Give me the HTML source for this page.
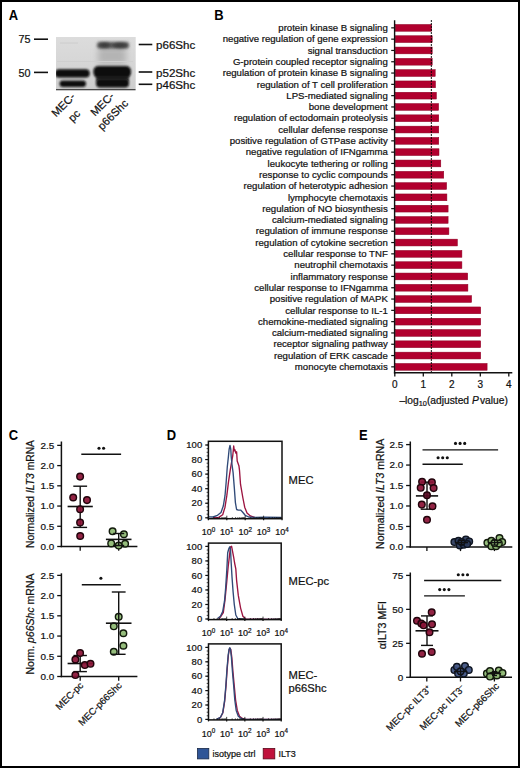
<!DOCTYPE html>
<html><head><meta charset="utf-8"><style>
html,body{margin:0;padding:0;background:#fff;}
svg{display:block;font-family:"Liberation Sans", sans-serif;}
text{stroke:#111;stroke-width:0.22px;}
</style></head><body>
<svg width="520" height="768" viewBox="0 0 520 768" font-family='"Liberation Sans", sans-serif'>
<rect width="520" height="768" fill="#fff"/>
<rect x="1" y="1" width="518" height="766" fill="none" stroke="#000" stroke-width="2"/>
<text transform="translate(8.80,20.00) scale(0.9,1)" font-size="14.4" font-weight="bold" fill="#000" style="stroke:none">A</text>
<text transform="translate(214.20,20.00) scale(0.9,1)" font-size="14.4" font-weight="bold" fill="#000" style="stroke:none">B</text>
<text transform="translate(8.80,439.70) scale(0.9,1)" font-size="14.4" font-weight="bold" fill="#000" style="stroke:none">C</text>
<text transform="translate(166.80,440.30) scale(0.9,1)" font-size="14.4" font-weight="bold" fill="#000" style="stroke:none">D</text>
<text transform="translate(359.10,439.70) scale(0.9,1)" font-size="14.4" font-weight="bold" fill="#000" style="stroke:none">E</text>
<text x="30.50" y="43.00" font-size="10.8" text-anchor="end" fill="#111" >75</text>
<text x="30.50" y="76.70" font-size="10.8" text-anchor="end" fill="#111" >50</text>
<line x1="34.00" y1="39.20" x2="48.00" y2="39.20" stroke="#111" stroke-width="1.6" />
<line x1="34.00" y1="72.40" x2="48.00" y2="72.40" stroke="#111" stroke-width="1.6" />
<defs>
<filter id="b1" x="-30%" y="-80%" width="160%" height="260%"><feGaussianBlur stdDeviation="1.2"/></filter>
<filter id="b2" x="-30%" y="-80%" width="160%" height="260%"><feGaussianBlur stdDeviation="1.6"/></filter>
<filter id="b3" x="-50%" y="-50%" width="200%" height="200%"><feGaussianBlur stdDeviation="3"/></filter>
<linearGradient id="bg" x1="0" y1="0" x2="0" y2="1">
<stop offset="0" stop-color="#dcdcdc"/><stop offset="0.5" stop-color="#d6d6d6"/><stop offset="1" stop-color="#cdcdcd"/></linearGradient>
<clipPath id="blotclip"><rect x="56" y="37" width="79.7" height="53.4"/></clipPath>
</defs>
<rect x="56" y="37" width="79.7" height="53.4" fill="url(#bg)"/>
<g clip-path="url(#blotclip)">
<rect x="98" y="48" width="28" height="16" fill="#b4b4b4" filter="url(#b3)"/>
<rect x="57" y="61" width="76" height="1" fill="#cfcfcf"/>
<rect x="60" y="42.6" width="18" height="0.9" fill="#cbcbcb"/>
<rect x="97" y="42.0" width="32" height="6.6" rx="3" fill="#555" filter="url(#b2)"/>
<ellipse cx="104.5" cy="45.2" rx="5" ry="2.4" fill="#3a3a3a" filter="url(#b2)"/>
<ellipse cx="120" cy="45.4" rx="7" ry="2.4" fill="#3a3a3a" filter="url(#b2)"/>
<rect x="96" y="74" width="33" height="7" fill="#3a3a3a" filter="url(#b1)"/>
<rect x="55" y="69.3" width="34.7" height="8.2" rx="4" fill="#080808" filter="url(#b1)"/>
<rect x="93.4" y="66.0" width="37.6" height="11.6" rx="5" fill="#080808" filter="url(#b1)"/>
<rect x="59.6" y="80.4" width="26.4" height="6.6" rx="3.2" fill="#111" filter="url(#b1)"/>
<rect x="96" y="78.8" width="33" height="8.8" rx="4" fill="#0a0a0a" filter="url(#b1)"/>
<rect x="56" y="89.1" width="79.7" height="1.3" fill="#3a3a3a"/>
</g>
<line x1="138.70" y1="44.50" x2="152.30" y2="44.50" stroke="#111" stroke-width="1.6" />
<line x1="138.70" y1="72.00" x2="152.30" y2="72.00" stroke="#111" stroke-width="1.6" />
<line x1="138.70" y1="84.30" x2="152.30" y2="84.30" stroke="#111" stroke-width="1.6" />
<text x="156.00" y="48.90" font-size="11.6" fill="#111" >p66Shc</text>
<text x="156.00" y="76.50" font-size="11.6" fill="#111" >p52Shc</text>
<text x="156.00" y="88.80" font-size="11.6" fill="#111" >p46Shc</text>
<g transform="translate(65.90,107.40) rotate(-45)">
<text x="0" y="0.00" font-size="11.1" text-anchor="middle" fill="#111">MEC-</text>
<text x="0" y="15.50" font-size="11.1" text-anchor="middle" fill="#111">pc</text>
</g>
<g transform="translate(104.90,106.80) rotate(-45)">
<text x="0" y="0.00" font-size="11.1" text-anchor="middle" fill="#111">MEC-</text>
<text x="0" y="15.00" font-size="11.1" text-anchor="middle" fill="#111">p66Shc</text>
</g>
<rect x="395.20" y="24.45" width="36.50" height="6.8" fill="#b1002e" stroke="#8c0024" stroke-width="0.5"/>
<line x1="391.20" y1="27.85" x2="394.60" y2="27.85" stroke="#111" stroke-width="1.2" />
<text x="387.80" y="31.05" font-size="9.62" text-anchor="end" fill="#111" >protein kinase B signaling</text>
<rect x="395.20" y="35.75" width="37.00" height="6.8" fill="#b1002e" stroke="#8c0024" stroke-width="0.5"/>
<line x1="391.20" y1="39.15" x2="394.60" y2="39.15" stroke="#111" stroke-width="1.2" />
<text x="387.80" y="42.35" font-size="9.62" text-anchor="end" fill="#111" >negative regulation of gene expression</text>
<rect x="395.20" y="47.05" width="37.00" height="6.8" fill="#b1002e" stroke="#8c0024" stroke-width="0.5"/>
<line x1="391.20" y1="50.45" x2="394.60" y2="50.45" stroke="#111" stroke-width="1.2" />
<text x="387.80" y="53.65" font-size="9.62" text-anchor="end" fill="#111" >signal transduction</text>
<rect x="395.20" y="58.35" width="37.00" height="6.8" fill="#b1002e" stroke="#8c0024" stroke-width="0.5"/>
<line x1="391.20" y1="61.75" x2="394.60" y2="61.75" stroke="#111" stroke-width="1.2" />
<text x="387.80" y="64.95" font-size="9.62" text-anchor="end" fill="#111" >G-protein coupled receptor signaling</text>
<rect x="395.20" y="69.65" width="40.00" height="6.8" fill="#b1002e" stroke="#8c0024" stroke-width="0.5"/>
<line x1="391.20" y1="73.05" x2="394.60" y2="73.05" stroke="#111" stroke-width="1.2" />
<text x="387.80" y="76.25" font-size="9.62" text-anchor="end" fill="#111" >regulation of protein kinase B signaling</text>
<rect x="395.20" y="80.95" width="40.30" height="6.8" fill="#b1002e" stroke="#8c0024" stroke-width="0.5"/>
<line x1="391.20" y1="84.35" x2="394.60" y2="84.35" stroke="#111" stroke-width="1.2" />
<text x="387.80" y="87.55" font-size="9.62" text-anchor="end" fill="#111" >regulation of T cell proliferation</text>
<rect x="395.20" y="92.25" width="41.20" height="6.8" fill="#b1002e" stroke="#8c0024" stroke-width="0.5"/>
<line x1="391.20" y1="95.65" x2="394.60" y2="95.65" stroke="#111" stroke-width="1.2" />
<text x="387.80" y="98.85" font-size="9.62" text-anchor="end" fill="#111" >LPS-mediated signaling</text>
<rect x="395.20" y="103.55" width="43.40" height="6.8" fill="#b1002e" stroke="#8c0024" stroke-width="0.5"/>
<line x1="391.20" y1="106.95" x2="394.60" y2="106.95" stroke="#111" stroke-width="1.2" />
<text x="387.80" y="110.15" font-size="9.62" text-anchor="end" fill="#111" >bone development</text>
<rect x="395.20" y="114.85" width="43.55" height="6.8" fill="#b1002e" stroke="#8c0024" stroke-width="0.5"/>
<line x1="391.20" y1="118.25" x2="394.60" y2="118.25" stroke="#111" stroke-width="1.2" />
<text x="387.80" y="121.45" font-size="9.62" text-anchor="end" fill="#111" >regulation of ectodomain proteolysis</text>
<rect x="395.20" y="126.15" width="43.55" height="6.8" fill="#b1002e" stroke="#8c0024" stroke-width="0.5"/>
<line x1="391.20" y1="129.55" x2="394.60" y2="129.55" stroke="#111" stroke-width="1.2" />
<text x="387.80" y="132.75" font-size="9.62" text-anchor="end" fill="#111" >cellular defense response</text>
<rect x="395.20" y="137.45" width="43.55" height="6.8" fill="#b1002e" stroke="#8c0024" stroke-width="0.5"/>
<line x1="391.20" y1="140.85" x2="394.60" y2="140.85" stroke="#111" stroke-width="1.2" />
<text x="387.80" y="144.05" font-size="9.62" text-anchor="end" fill="#111" >positive regulation of GTPase activity</text>
<rect x="395.20" y="148.75" width="43.80" height="6.8" fill="#b1002e" stroke="#8c0024" stroke-width="0.5"/>
<line x1="391.20" y1="152.15" x2="394.60" y2="152.15" stroke="#111" stroke-width="1.2" />
<text x="387.80" y="155.35" font-size="9.62" text-anchor="end" fill="#111" >negative regulation of IFNgamma</text>
<rect x="395.20" y="160.05" width="45.60" height="6.8" fill="#b1002e" stroke="#8c0024" stroke-width="0.5"/>
<line x1="391.20" y1="163.45" x2="394.60" y2="163.45" stroke="#111" stroke-width="1.2" />
<text x="387.80" y="166.65" font-size="9.62" text-anchor="end" fill="#111" >leukocyte tethering or rolling</text>
<rect x="395.20" y="171.35" width="48.55" height="6.8" fill="#b1002e" stroke="#8c0024" stroke-width="0.5"/>
<line x1="391.20" y1="174.75" x2="394.60" y2="174.75" stroke="#111" stroke-width="1.2" />
<text x="387.80" y="177.95" font-size="9.62" text-anchor="end" fill="#111" >response to cyclic compounds</text>
<rect x="395.20" y="182.65" width="51.40" height="6.8" fill="#b1002e" stroke="#8c0024" stroke-width="0.5"/>
<line x1="391.20" y1="186.05" x2="394.60" y2="186.05" stroke="#111" stroke-width="1.2" />
<text x="387.80" y="189.25" font-size="9.62" text-anchor="end" fill="#111" >regulation of heterotypic adhesion</text>
<rect x="395.20" y="193.95" width="51.70" height="6.8" fill="#b1002e" stroke="#8c0024" stroke-width="0.5"/>
<line x1="391.20" y1="197.35" x2="394.60" y2="197.35" stroke="#111" stroke-width="1.2" />
<text x="387.80" y="200.55" font-size="9.62" text-anchor="end" fill="#111" >lymphocyte chemotaxis</text>
<rect x="395.20" y="205.25" width="52.90" height="6.8" fill="#b1002e" stroke="#8c0024" stroke-width="0.5"/>
<line x1="391.20" y1="208.65" x2="394.60" y2="208.65" stroke="#111" stroke-width="1.2" />
<text x="387.80" y="211.85" font-size="9.62" text-anchor="end" fill="#111" >regulation of NO biosynthesis</text>
<rect x="395.20" y="216.55" width="52.90" height="6.8" fill="#b1002e" stroke="#8c0024" stroke-width="0.5"/>
<line x1="391.20" y1="219.95" x2="394.60" y2="219.95" stroke="#111" stroke-width="1.2" />
<text x="387.80" y="223.15" font-size="9.62" text-anchor="end" fill="#111" >calcium-mediated signaling</text>
<rect x="395.20" y="227.85" width="53.70" height="6.8" fill="#b1002e" stroke="#8c0024" stroke-width="0.5"/>
<line x1="391.20" y1="231.25" x2="394.60" y2="231.25" stroke="#111" stroke-width="1.2" />
<text x="387.80" y="234.45" font-size="9.62" text-anchor="end" fill="#111" >regulation of immune response</text>
<rect x="395.20" y="239.15" width="62.20" height="6.8" fill="#b1002e" stroke="#8c0024" stroke-width="0.5"/>
<line x1="391.20" y1="242.55" x2="394.60" y2="242.55" stroke="#111" stroke-width="1.2" />
<text x="387.80" y="245.75" font-size="9.62" text-anchor="end" fill="#111" >regulation of cytokine secretion</text>
<rect x="395.20" y="250.45" width="66.70" height="6.8" fill="#b1002e" stroke="#8c0024" stroke-width="0.5"/>
<line x1="391.20" y1="253.85" x2="394.60" y2="253.85" stroke="#111" stroke-width="1.2" />
<text x="387.80" y="257.05" font-size="9.62" text-anchor="end" fill="#111" >cellular response to TNF</text>
<rect x="395.20" y="261.75" width="66.70" height="6.8" fill="#b1002e" stroke="#8c0024" stroke-width="0.5"/>
<line x1="391.20" y1="265.15" x2="394.60" y2="265.15" stroke="#111" stroke-width="1.2" />
<text x="387.80" y="268.35" font-size="9.62" text-anchor="end" fill="#111" >neutrophil chemotaxis</text>
<rect x="395.20" y="273.05" width="72.50" height="6.8" fill="#b1002e" stroke="#8c0024" stroke-width="0.5"/>
<line x1="391.20" y1="276.45" x2="394.60" y2="276.45" stroke="#111" stroke-width="1.2" />
<text x="387.80" y="279.65" font-size="9.62" text-anchor="end" fill="#111" >inflammatory response</text>
<rect x="395.20" y="284.35" width="72.70" height="6.8" fill="#b1002e" stroke="#8c0024" stroke-width="0.5"/>
<line x1="391.20" y1="287.75" x2="394.60" y2="287.75" stroke="#111" stroke-width="1.2" />
<text x="387.80" y="290.95" font-size="9.62" text-anchor="end" fill="#111" >cellular response to IFNgamma</text>
<rect x="395.20" y="295.65" width="76.40" height="6.8" fill="#b1002e" stroke="#8c0024" stroke-width="0.5"/>
<line x1="391.20" y1="299.05" x2="394.60" y2="299.05" stroke="#111" stroke-width="1.2" />
<text x="387.80" y="302.25" font-size="9.62" text-anchor="end" fill="#111" >positive regulation of MAPK</text>
<rect x="395.20" y="306.95" width="85.50" height="6.8" fill="#b1002e" stroke="#8c0024" stroke-width="0.5"/>
<line x1="391.20" y1="310.35" x2="394.60" y2="310.35" stroke="#111" stroke-width="1.2" />
<text x="387.80" y="313.55" font-size="9.62" text-anchor="end" fill="#111" >cellular response to IL-1</text>
<rect x="395.20" y="318.25" width="85.50" height="6.8" fill="#b1002e" stroke="#8c0024" stroke-width="0.5"/>
<line x1="391.20" y1="321.65" x2="394.60" y2="321.65" stroke="#111" stroke-width="1.2" />
<text x="387.80" y="324.85" font-size="9.62" text-anchor="end" fill="#111" >chemokine-mediated signaling</text>
<rect x="395.20" y="329.55" width="85.50" height="6.8" fill="#b1002e" stroke="#8c0024" stroke-width="0.5"/>
<line x1="391.20" y1="332.95" x2="394.60" y2="332.95" stroke="#111" stroke-width="1.2" />
<text x="387.80" y="336.15" font-size="9.62" text-anchor="end" fill="#111" >calcium-mediated signaling</text>
<rect x="395.20" y="340.85" width="85.50" height="6.8" fill="#b1002e" stroke="#8c0024" stroke-width="0.5"/>
<line x1="391.20" y1="344.25" x2="394.60" y2="344.25" stroke="#111" stroke-width="1.2" />
<text x="387.80" y="347.45" font-size="9.62" text-anchor="end" fill="#111" >receptor signaling pathway</text>
<rect x="395.20" y="352.15" width="85.50" height="6.8" fill="#b1002e" stroke="#8c0024" stroke-width="0.5"/>
<line x1="391.20" y1="355.55" x2="394.60" y2="355.55" stroke="#111" stroke-width="1.2" />
<text x="387.80" y="358.75" font-size="9.62" text-anchor="end" fill="#111" >regulation of ERK cascade</text>
<rect x="395.20" y="363.45" width="91.90" height="6.8" fill="#b1002e" stroke="#8c0024" stroke-width="0.5"/>
<line x1="391.20" y1="366.85" x2="394.60" y2="366.85" stroke="#111" stroke-width="1.2" />
<text x="387.80" y="370.05" font-size="9.62" text-anchor="end" fill="#111" >monocyte chemotaxis</text>
<line x1="431.40" y1="20.20" x2="431.40" y2="372.00" stroke="#000" stroke-width="1.2" stroke-dasharray="1.6 1.4"/>
<line x1="394.60" y1="20.20" x2="394.60" y2="373.50" stroke="#111" stroke-width="1.4" />
<line x1="393.90" y1="372.80" x2="512.30" y2="372.80" stroke="#111" stroke-width="1.5" />
<line x1="394.80" y1="372.80" x2="394.80" y2="376.60" stroke="#111" stroke-width="1.3" />
<text x="394.80" y="388.30" font-size="10.0" text-anchor="middle" fill="#111" >0</text>
<line x1="423.30" y1="372.80" x2="423.30" y2="376.60" stroke="#111" stroke-width="1.3" />
<text x="423.30" y="388.30" font-size="10.0" text-anchor="middle" fill="#111" >1</text>
<line x1="451.80" y1="372.80" x2="451.80" y2="376.60" stroke="#111" stroke-width="1.3" />
<text x="451.80" y="388.30" font-size="10.0" text-anchor="middle" fill="#111" >2</text>
<line x1="480.30" y1="372.80" x2="480.30" y2="376.60" stroke="#111" stroke-width="1.3" />
<text x="480.30" y="388.30" font-size="10.0" text-anchor="middle" fill="#111" >3</text>
<line x1="508.80" y1="372.80" x2="508.80" y2="376.60" stroke="#111" stroke-width="1.3" />
<text x="508.80" y="388.30" font-size="10.0" text-anchor="middle" fill="#111" >4</text>
<text x="399.4" y="403.6" font-size="10.25" fill="#111">&#8211;log<tspan font-size="7.3" dy="2.5">10</tspan><tspan dy="-2.5">(adjusted </tspan><tspan font-style="italic">P</tspan><tspan dx="1.2">value)</tspan></text>
<line x1="61.40" y1="441.50" x2="61.40" y2="547.20" stroke="#111" stroke-width="1.5" />
<line x1="57.20" y1="546.50" x2="61.40" y2="546.50" stroke="#111" stroke-width="1.3" />
<text x="54.20" y="549.80" font-size="9.9" text-anchor="end" fill="#111" >0.0</text>
<line x1="57.20" y1="526.27" x2="61.40" y2="526.27" stroke="#111" stroke-width="1.3" />
<text x="54.20" y="529.57" font-size="9.9" text-anchor="end" fill="#111" >0.5</text>
<line x1="57.20" y1="506.05" x2="61.40" y2="506.05" stroke="#111" stroke-width="1.3" />
<text x="54.20" y="509.35" font-size="9.9" text-anchor="end" fill="#111" >1.0</text>
<line x1="57.20" y1="485.82" x2="61.40" y2="485.82" stroke="#111" stroke-width="1.3" />
<text x="54.20" y="489.12" font-size="9.9" text-anchor="end" fill="#111" >1.5</text>
<line x1="57.20" y1="465.60" x2="61.40" y2="465.60" stroke="#111" stroke-width="1.3" />
<text x="54.20" y="468.90" font-size="9.9" text-anchor="end" fill="#111" >2.0</text>
<line x1="57.20" y1="445.38" x2="61.40" y2="445.38" stroke="#111" stroke-width="1.3" />
<text x="54.20" y="448.68" font-size="9.9" text-anchor="end" fill="#111" >2.5</text>
<line x1="60.70" y1="546.50" x2="137.40" y2="546.50" stroke="#111" stroke-width="1.5" />
<line x1="80.20" y1="546.50" x2="80.20" y2="550.70" stroke="#111" stroke-width="1.3" />
<line x1="118.70" y1="546.50" x2="118.70" y2="550.70" stroke="#111" stroke-width="1.3" />
<text transform="translate(34.0,494.0) rotate(-90)" font-size="10.3" text-anchor="middle" fill="#111">Normalized <tspan font-style="italic">ILT3</tspan> mRNA</text>
<line x1="81.30" y1="454.20" x2="121.10" y2="454.20" stroke="#111" stroke-width="1.4" />
<circle cx="99.00" cy="448.30" r="1.55" fill="#111"/>
<circle cx="103.60" cy="448.30" r="1.55" fill="#111"/>
<line x1="80.20" y1="527.40" x2="80.20" y2="486.20" stroke="#111" stroke-width="1.4" />
<line x1="67.60" y1="506.50" x2="92.80" y2="506.50" stroke="#111" stroke-width="1.5999999999999999" />
<line x1="73.30" y1="527.40" x2="87.10" y2="527.40" stroke="#111" stroke-width="1.4" />
<line x1="73.30" y1="486.20" x2="87.10" y2="486.20" stroke="#111" stroke-width="1.4" />
<circle cx="80.10" cy="476.60" r="3.3" fill="#8a1236" fill-opacity="0.93" stroke="#22040c" stroke-width="1.45"/>
<circle cx="73.20" cy="497.50" r="3.3" fill="#8a1236" fill-opacity="0.93" stroke="#22040c" stroke-width="1.45"/>
<circle cx="87.00" cy="500.10" r="3.3" fill="#8a1236" fill-opacity="0.93" stroke="#22040c" stroke-width="1.45"/>
<circle cx="80.10" cy="509.30" r="3.3" fill="#8a1236" fill-opacity="0.93" stroke="#22040c" stroke-width="1.45"/>
<circle cx="80.10" cy="522.60" r="3.3" fill="#8a1236" fill-opacity="0.93" stroke="#22040c" stroke-width="1.45"/>
<circle cx="80.20" cy="536.00" r="3.3" fill="#8a1236" fill-opacity="0.93" stroke="#22040c" stroke-width="1.45"/>
<circle cx="112.60" cy="531.20" r="3.3" fill="#8db872" fill-opacity="0.93" stroke="#121a0c" stroke-width="1.45"/>
<circle cx="123.90" cy="534.20" r="3.3" fill="#8db872" fill-opacity="0.93" stroke="#121a0c" stroke-width="1.45"/>
<circle cx="111.20" cy="543.40" r="3.3" fill="#8db872" fill-opacity="0.93" stroke="#121a0c" stroke-width="1.45"/>
<circle cx="125.10" cy="543.70" r="3.3" fill="#8db872" fill-opacity="0.93" stroke="#121a0c" stroke-width="1.45"/>
<circle cx="118.70" cy="545.60" r="3.3" fill="#8db872" fill-opacity="0.93" stroke="#121a0c" stroke-width="1.45"/>
<line x1="118.70" y1="545.50" x2="118.70" y2="533.50" stroke="#111" stroke-width="1.4" />
<line x1="105.90" y1="539.40" x2="131.50" y2="539.40" stroke="#111" stroke-width="1.5999999999999999" />
<line x1="113.20" y1="545.50" x2="124.20" y2="545.50" stroke="#111" stroke-width="1.4" />
<line x1="113.20" y1="533.50" x2="124.20" y2="533.50" stroke="#111" stroke-width="1.4" />
<line x1="61.40" y1="573.30" x2="61.40" y2="677.20" stroke="#111" stroke-width="1.5" />
<line x1="57.20" y1="676.50" x2="61.40" y2="676.50" stroke="#111" stroke-width="1.3" />
<text x="54.20" y="679.80" font-size="9.9" text-anchor="end" fill="#111" >0.0</text>
<line x1="57.20" y1="656.27" x2="61.40" y2="656.27" stroke="#111" stroke-width="1.3" />
<text x="54.20" y="659.57" font-size="9.9" text-anchor="end" fill="#111" >0.5</text>
<line x1="57.20" y1="636.05" x2="61.40" y2="636.05" stroke="#111" stroke-width="1.3" />
<text x="54.20" y="639.35" font-size="9.9" text-anchor="end" fill="#111" >1.0</text>
<line x1="57.20" y1="615.83" x2="61.40" y2="615.83" stroke="#111" stroke-width="1.3" />
<text x="54.20" y="619.12" font-size="9.9" text-anchor="end" fill="#111" >1.5</text>
<line x1="57.20" y1="595.60" x2="61.40" y2="595.60" stroke="#111" stroke-width="1.3" />
<text x="54.20" y="598.90" font-size="9.9" text-anchor="end" fill="#111" >2.0</text>
<line x1="57.20" y1="575.38" x2="61.40" y2="575.38" stroke="#111" stroke-width="1.3" />
<text x="54.20" y="578.67" font-size="9.9" text-anchor="end" fill="#111" >2.5</text>
<line x1="60.70" y1="676.50" x2="137.40" y2="676.50" stroke="#111" stroke-width="1.5" />
<line x1="80.20" y1="676.50" x2="80.20" y2="680.70" stroke="#111" stroke-width="1.3" />
<line x1="118.70" y1="676.50" x2="118.70" y2="680.70" stroke="#111" stroke-width="1.3" />
<text transform="translate(34.0,624.0) rotate(-90)" font-size="10.5" text-anchor="middle" fill="#111">Norm. <tspan font-style="italic">p66Shc</tspan> mRNA</text>
<line x1="81.80" y1="584.70" x2="120.80" y2="584.70" stroke="#111" stroke-width="1.4" />
<circle cx="100.90" cy="578.30" r="1.55" fill="#111"/>
<line x1="80.20" y1="671.60" x2="80.20" y2="655.50" stroke="#111" stroke-width="1.4" />
<line x1="67.60" y1="663.50" x2="92.80" y2="663.50" stroke="#111" stroke-width="1.5999999999999999" />
<line x1="73.50" y1="671.60" x2="86.90" y2="671.60" stroke="#111" stroke-width="1.4" />
<line x1="73.50" y1="655.50" x2="86.90" y2="655.50" stroke="#111" stroke-width="1.4" />
<circle cx="80.10" cy="653.10" r="3.3" fill="#8a1236" fill-opacity="0.93" stroke="#22040c" stroke-width="1.45"/>
<circle cx="75.40" cy="659.50" r="3.3" fill="#8a1236" fill-opacity="0.93" stroke="#22040c" stroke-width="1.45"/>
<circle cx="84.80" cy="665.10" r="3.3" fill="#8a1236" fill-opacity="0.93" stroke="#22040c" stroke-width="1.45"/>
<circle cx="90.50" cy="663.80" r="3.3" fill="#8a1236" fill-opacity="0.93" stroke="#22040c" stroke-width="1.45"/>
<circle cx="75.40" cy="675.10" r="3.3" fill="#8a1236" fill-opacity="0.93" stroke="#22040c" stroke-width="1.45"/>
<circle cx="118.70" cy="616.80" r="3.3" fill="#8db872" fill-opacity="0.93" stroke="#121a0c" stroke-width="1.45"/>
<circle cx="113.80" cy="626.30" r="3.3" fill="#8db872" fill-opacity="0.93" stroke="#121a0c" stroke-width="1.45"/>
<circle cx="123.40" cy="633.20" r="3.3" fill="#8db872" fill-opacity="0.93" stroke="#121a0c" stroke-width="1.45"/>
<circle cx="123.40" cy="645.70" r="3.3" fill="#8db872" fill-opacity="0.93" stroke="#121a0c" stroke-width="1.45"/>
<circle cx="113.80" cy="651.70" r="3.3" fill="#8db872" fill-opacity="0.93" stroke="#121a0c" stroke-width="1.45"/>
<line x1="118.70" y1="654.30" x2="118.70" y2="592.00" stroke="#111" stroke-width="1.4" />
<line x1="105.90" y1="623.20" x2="131.50" y2="623.20" stroke="#111" stroke-width="1.5999999999999999" />
<line x1="111.80" y1="654.30" x2="125.60" y2="654.30" stroke="#111" stroke-width="1.4" />
<line x1="111.80" y1="592.00" x2="125.60" y2="592.00" stroke="#111" stroke-width="1.4" />
<g transform="translate(84.00,686.00) rotate(-45)">
<text x="0" y="0.00" font-size="9.6" text-anchor="end" fill="#111">MEC-pc</text>
</g>
<g transform="translate(122.50,686.00) rotate(-45)">
<text x="0" y="0.00" font-size="9.6" text-anchor="end" fill="#111">MEC-p66Shc</text>
</g>
<path d="M213.00,517.60 L218.70,517.40 L222.70,514.70 L225.00,507.20 L226.80,495.70 L228.50,481.80 L230.20,470.30 L231.60,462.20 L232.80,455.30 L233.70,446.00 L234.30,450.70 L234.80,449.50 L235.80,453.00 L236.60,451.80 L237.20,461.00 L238.90,465.70 L239.50,470.30 L240.50,484.20 L242.90,498.00 L244.70,507.20 L247.00,513.00 L250.40,515.90 L254.50,517.40 L281.50,517.60" fill="none" stroke="#9c1440" stroke-width="1.35" stroke-linejoin="round"/>
<path d="M208.90,516.80 L212.90,517.00 L217.50,515.30 L221.00,512.40 L223.30,506.00 L225.00,495.70 L226.20,481.80 L227.30,466.80 L228.30,457.60 L229.10,449.50 L230.00,445.50 L230.80,449.50 L231.20,456.50 L232.00,464.50 L233.10,472.60 L234.30,487.60 L235.40,502.60 L236.60,509.50 L238.30,510.10 L240.60,510.10 L242.30,511.80 L245.20,515.30 L248.70,517.00 L255.00,517.40 L265.00,517.20 L281.50,517.40" fill="none" stroke="#304a78" stroke-width="1.35" stroke-linejoin="round"/>
<rect x="208.40" y="441.30" width="73.60" height="77.40" fill="none" stroke="#111" stroke-width="1.5"/>
<line x1="205.20" y1="517.80" x2="208.40" y2="517.80" stroke="#111" stroke-width="1.2" />
<text x="202.20" y="521.00" font-size="9.5" text-anchor="end" fill="#111" >0</text>
<line x1="205.20" y1="503.24" x2="208.40" y2="503.24" stroke="#111" stroke-width="1.2" />
<text x="202.20" y="506.44" font-size="9.5" text-anchor="end" fill="#111" >20</text>
<line x1="205.20" y1="488.68" x2="208.40" y2="488.68" stroke="#111" stroke-width="1.2" />
<text x="202.20" y="491.88" font-size="9.5" text-anchor="end" fill="#111" >40</text>
<line x1="205.20" y1="474.12" x2="208.40" y2="474.12" stroke="#111" stroke-width="1.2" />
<text x="202.20" y="477.32" font-size="9.5" text-anchor="end" fill="#111" >60</text>
<line x1="205.20" y1="459.56" x2="208.40" y2="459.56" stroke="#111" stroke-width="1.2" />
<text x="202.20" y="462.76" font-size="9.5" text-anchor="end" fill="#111" >80</text>
<line x1="205.20" y1="445.00" x2="208.40" y2="445.00" stroke="#111" stroke-width="1.2" />
<text x="202.20" y="448.20" font-size="9.5" text-anchor="end" fill="#111" >100</text>
<line x1="206.60" y1="517.80" x2="208.40" y2="517.80" stroke="#111" stroke-width="0.8" />
<line x1="206.60" y1="514.16" x2="208.40" y2="514.16" stroke="#111" stroke-width="0.8" />
<line x1="206.60" y1="510.52" x2="208.40" y2="510.52" stroke="#111" stroke-width="0.8" />
<line x1="206.60" y1="506.88" x2="208.40" y2="506.88" stroke="#111" stroke-width="0.8" />
<line x1="206.60" y1="503.24" x2="208.40" y2="503.24" stroke="#111" stroke-width="0.8" />
<line x1="206.60" y1="499.60" x2="208.40" y2="499.60" stroke="#111" stroke-width="0.8" />
<line x1="206.60" y1="495.96" x2="208.40" y2="495.96" stroke="#111" stroke-width="0.8" />
<line x1="206.60" y1="492.32" x2="208.40" y2="492.32" stroke="#111" stroke-width="0.8" />
<line x1="206.60" y1="488.68" x2="208.40" y2="488.68" stroke="#111" stroke-width="0.8" />
<line x1="206.60" y1="485.04" x2="208.40" y2="485.04" stroke="#111" stroke-width="0.8" />
<line x1="206.60" y1="481.40" x2="208.40" y2="481.40" stroke="#111" stroke-width="0.8" />
<line x1="206.60" y1="477.76" x2="208.40" y2="477.76" stroke="#111" stroke-width="0.8" />
<line x1="206.60" y1="474.12" x2="208.40" y2="474.12" stroke="#111" stroke-width="0.8" />
<line x1="206.60" y1="470.48" x2="208.40" y2="470.48" stroke="#111" stroke-width="0.8" />
<line x1="206.60" y1="466.84" x2="208.40" y2="466.84" stroke="#111" stroke-width="0.8" />
<line x1="206.60" y1="463.20" x2="208.40" y2="463.20" stroke="#111" stroke-width="0.8" />
<line x1="206.60" y1="459.56" x2="208.40" y2="459.56" stroke="#111" stroke-width="0.8" />
<line x1="206.60" y1="455.92" x2="208.40" y2="455.92" stroke="#111" stroke-width="0.8" />
<line x1="206.60" y1="452.28" x2="208.40" y2="452.28" stroke="#111" stroke-width="0.8" />
<line x1="206.60" y1="448.64" x2="208.40" y2="448.64" stroke="#111" stroke-width="0.8" />
<line x1="206.60" y1="445.00" x2="208.40" y2="445.00" stroke="#111" stroke-width="0.8" />
<line x1="208.40" y1="518.70" x2="208.40" y2="515.70" stroke="#111" stroke-width="0.8" />
<line x1="213.94" y1="518.70" x2="213.94" y2="517.20" stroke="#111" stroke-width="0.8" />
<line x1="217.18" y1="518.70" x2="217.18" y2="517.20" stroke="#111" stroke-width="0.8" />
<line x1="219.48" y1="518.70" x2="219.48" y2="517.20" stroke="#111" stroke-width="0.8" />
<line x1="221.26" y1="518.70" x2="221.26" y2="517.20" stroke="#111" stroke-width="0.8" />
<line x1="222.72" y1="518.70" x2="222.72" y2="517.20" stroke="#111" stroke-width="0.8" />
<line x1="223.95" y1="518.70" x2="223.95" y2="517.20" stroke="#111" stroke-width="0.8" />
<line x1="225.02" y1="518.70" x2="225.02" y2="517.20" stroke="#111" stroke-width="0.8" />
<line x1="225.96" y1="518.70" x2="225.96" y2="517.20" stroke="#111" stroke-width="0.8" />
<line x1="226.80" y1="518.70" x2="226.80" y2="515.70" stroke="#111" stroke-width="0.8" />
<line x1="232.34" y1="518.70" x2="232.34" y2="517.20" stroke="#111" stroke-width="0.8" />
<line x1="235.58" y1="518.70" x2="235.58" y2="517.20" stroke="#111" stroke-width="0.8" />
<line x1="237.88" y1="518.70" x2="237.88" y2="517.20" stroke="#111" stroke-width="0.8" />
<line x1="239.66" y1="518.70" x2="239.66" y2="517.20" stroke="#111" stroke-width="0.8" />
<line x1="241.12" y1="518.70" x2="241.12" y2="517.20" stroke="#111" stroke-width="0.8" />
<line x1="242.35" y1="518.70" x2="242.35" y2="517.20" stroke="#111" stroke-width="0.8" />
<line x1="243.42" y1="518.70" x2="243.42" y2="517.20" stroke="#111" stroke-width="0.8" />
<line x1="244.36" y1="518.70" x2="244.36" y2="517.20" stroke="#111" stroke-width="0.8" />
<line x1="245.20" y1="518.70" x2="245.20" y2="515.70" stroke="#111" stroke-width="0.8" />
<line x1="250.74" y1="518.70" x2="250.74" y2="517.20" stroke="#111" stroke-width="0.8" />
<line x1="253.98" y1="518.70" x2="253.98" y2="517.20" stroke="#111" stroke-width="0.8" />
<line x1="256.28" y1="518.70" x2="256.28" y2="517.20" stroke="#111" stroke-width="0.8" />
<line x1="258.06" y1="518.70" x2="258.06" y2="517.20" stroke="#111" stroke-width="0.8" />
<line x1="259.52" y1="518.70" x2="259.52" y2="517.20" stroke="#111" stroke-width="0.8" />
<line x1="260.75" y1="518.70" x2="260.75" y2="517.20" stroke="#111" stroke-width="0.8" />
<line x1="261.82" y1="518.70" x2="261.82" y2="517.20" stroke="#111" stroke-width="0.8" />
<line x1="262.76" y1="518.70" x2="262.76" y2="517.20" stroke="#111" stroke-width="0.8" />
<line x1="263.60" y1="518.70" x2="263.60" y2="515.70" stroke="#111" stroke-width="0.8" />
<line x1="269.14" y1="518.70" x2="269.14" y2="517.20" stroke="#111" stroke-width="0.8" />
<line x1="272.38" y1="518.70" x2="272.38" y2="517.20" stroke="#111" stroke-width="0.8" />
<line x1="274.68" y1="518.70" x2="274.68" y2="517.20" stroke="#111" stroke-width="0.8" />
<line x1="276.46" y1="518.70" x2="276.46" y2="517.20" stroke="#111" stroke-width="0.8" />
<line x1="277.92" y1="518.70" x2="277.92" y2="517.20" stroke="#111" stroke-width="0.8" />
<line x1="279.15" y1="518.70" x2="279.15" y2="517.20" stroke="#111" stroke-width="0.8" />
<line x1="280.22" y1="518.70" x2="280.22" y2="517.20" stroke="#111" stroke-width="0.8" />
<line x1="281.16" y1="518.70" x2="281.16" y2="517.20" stroke="#111" stroke-width="0.8" />
<line x1="208.40" y1="518.70" x2="208.40" y2="520.20" stroke="#111" stroke-width="1.2" />
<text x="208.40" y="535.30" font-size="9" text-anchor="middle" fill="#111">10<tspan font-size="6.3" dy="-3.6">0</tspan></text>
<line x1="226.80" y1="518.70" x2="226.80" y2="520.20" stroke="#111" stroke-width="1.2" />
<text x="226.80" y="535.30" font-size="9" text-anchor="middle" fill="#111">10<tspan font-size="6.3" dy="-3.6">1</tspan></text>
<line x1="245.20" y1="518.70" x2="245.20" y2="520.20" stroke="#111" stroke-width="1.2" />
<text x="245.20" y="535.30" font-size="9" text-anchor="middle" fill="#111">10<tspan font-size="6.3" dy="-3.6">2</tspan></text>
<line x1="263.60" y1="518.70" x2="263.60" y2="520.20" stroke="#111" stroke-width="1.2" />
<text x="263.60" y="535.30" font-size="9" text-anchor="middle" fill="#111">10<tspan font-size="6.3" dy="-3.6">3</tspan></text>
<line x1="282.00" y1="518.70" x2="282.00" y2="520.20" stroke="#111" stroke-width="1.2" />
<text x="282.00" y="535.30" font-size="9" text-anchor="middle" fill="#111">10<tspan font-size="6.3" dy="-3.6">4</tspan></text>
<text x="288.60" y="483.70" font-size="11.2" fill="#111" >MEC</text>
<path d="M218.70,619.00 L221.00,616.20 L223.30,612.70 L225.00,600.00 L226.80,581.50 L228.20,566.50 L229.70,553.80 L230.50,546.90 L231.60,546.30 L232.80,552.70 L233.70,557.30 L234.60,563.00 L235.80,568.80 L236.60,580.40 L238.30,595.40 L240.60,608.10 L242.90,616.20 L245.80,619.00 L281.50,619.30" fill="none" stroke="#9c1440" stroke-width="1.35" stroke-linejoin="round"/>
<path d="M217.50,618.50 L220.40,616.20 L222.70,611.50 L224.50,601.20 L225.60,588.50 L226.80,570.00 L227.70,552.70 L228.80,548.70 L229.70,546.90 L230.50,549.20 L231.20,563.00 L232.00,576.90 L233.10,591.90 L234.30,604.60 L235.80,615.00 L237.70,618.50 L245.00,619.30 L281.50,619.30" fill="none" stroke="#304a78" stroke-width="1.35" stroke-linejoin="round"/>
<rect x="208.50" y="543.10" width="72.70" height="76.50" fill="none" stroke="#111" stroke-width="1.5"/>
<line x1="205.30" y1="619.00" x2="208.50" y2="619.00" stroke="#111" stroke-width="1.2" />
<text x="202.20" y="622.20" font-size="9.5" text-anchor="end" fill="#111" >0</text>
<line x1="205.30" y1="604.48" x2="208.50" y2="604.48" stroke="#111" stroke-width="1.2" />
<text x="202.20" y="607.68" font-size="9.5" text-anchor="end" fill="#111" >20</text>
<line x1="205.30" y1="589.96" x2="208.50" y2="589.96" stroke="#111" stroke-width="1.2" />
<text x="202.20" y="593.16" font-size="9.5" text-anchor="end" fill="#111" >40</text>
<line x1="205.30" y1="575.44" x2="208.50" y2="575.44" stroke="#111" stroke-width="1.2" />
<text x="202.20" y="578.64" font-size="9.5" text-anchor="end" fill="#111" >60</text>
<line x1="205.30" y1="560.92" x2="208.50" y2="560.92" stroke="#111" stroke-width="1.2" />
<text x="202.20" y="564.12" font-size="9.5" text-anchor="end" fill="#111" >80</text>
<line x1="205.30" y1="546.40" x2="208.50" y2="546.40" stroke="#111" stroke-width="1.2" />
<text x="202.20" y="549.60" font-size="9.5" text-anchor="end" fill="#111" >100</text>
<line x1="206.70" y1="619.00" x2="208.50" y2="619.00" stroke="#111" stroke-width="0.8" />
<line x1="206.70" y1="615.37" x2="208.50" y2="615.37" stroke="#111" stroke-width="0.8" />
<line x1="206.70" y1="611.74" x2="208.50" y2="611.74" stroke="#111" stroke-width="0.8" />
<line x1="206.70" y1="608.11" x2="208.50" y2="608.11" stroke="#111" stroke-width="0.8" />
<line x1="206.70" y1="604.48" x2="208.50" y2="604.48" stroke="#111" stroke-width="0.8" />
<line x1="206.70" y1="600.85" x2="208.50" y2="600.85" stroke="#111" stroke-width="0.8" />
<line x1="206.70" y1="597.22" x2="208.50" y2="597.22" stroke="#111" stroke-width="0.8" />
<line x1="206.70" y1="593.59" x2="208.50" y2="593.59" stroke="#111" stroke-width="0.8" />
<line x1="206.70" y1="589.96" x2="208.50" y2="589.96" stroke="#111" stroke-width="0.8" />
<line x1="206.70" y1="586.33" x2="208.50" y2="586.33" stroke="#111" stroke-width="0.8" />
<line x1="206.70" y1="582.70" x2="208.50" y2="582.70" stroke="#111" stroke-width="0.8" />
<line x1="206.70" y1="579.07" x2="208.50" y2="579.07" stroke="#111" stroke-width="0.8" />
<line x1="206.70" y1="575.44" x2="208.50" y2="575.44" stroke="#111" stroke-width="0.8" />
<line x1="206.70" y1="571.81" x2="208.50" y2="571.81" stroke="#111" stroke-width="0.8" />
<line x1="206.70" y1="568.18" x2="208.50" y2="568.18" stroke="#111" stroke-width="0.8" />
<line x1="206.70" y1="564.55" x2="208.50" y2="564.55" stroke="#111" stroke-width="0.8" />
<line x1="206.70" y1="560.92" x2="208.50" y2="560.92" stroke="#111" stroke-width="0.8" />
<line x1="206.70" y1="557.29" x2="208.50" y2="557.29" stroke="#111" stroke-width="0.8" />
<line x1="206.70" y1="553.66" x2="208.50" y2="553.66" stroke="#111" stroke-width="0.8" />
<line x1="206.70" y1="550.03" x2="208.50" y2="550.03" stroke="#111" stroke-width="0.8" />
<line x1="206.70" y1="546.40" x2="208.50" y2="546.40" stroke="#111" stroke-width="0.8" />
<line x1="208.50" y1="619.60" x2="208.50" y2="616.60" stroke="#111" stroke-width="0.8" />
<line x1="213.97" y1="619.60" x2="213.97" y2="618.10" stroke="#111" stroke-width="0.8" />
<line x1="217.17" y1="619.60" x2="217.17" y2="618.10" stroke="#111" stroke-width="0.8" />
<line x1="219.44" y1="619.60" x2="219.44" y2="618.10" stroke="#111" stroke-width="0.8" />
<line x1="221.20" y1="619.60" x2="221.20" y2="618.10" stroke="#111" stroke-width="0.8" />
<line x1="222.64" y1="619.60" x2="222.64" y2="618.10" stroke="#111" stroke-width="0.8" />
<line x1="223.86" y1="619.60" x2="223.86" y2="618.10" stroke="#111" stroke-width="0.8" />
<line x1="224.91" y1="619.60" x2="224.91" y2="618.10" stroke="#111" stroke-width="0.8" />
<line x1="225.84" y1="619.60" x2="225.84" y2="618.10" stroke="#111" stroke-width="0.8" />
<line x1="226.68" y1="619.60" x2="226.68" y2="616.60" stroke="#111" stroke-width="0.8" />
<line x1="232.15" y1="619.60" x2="232.15" y2="618.10" stroke="#111" stroke-width="0.8" />
<line x1="235.35" y1="619.60" x2="235.35" y2="618.10" stroke="#111" stroke-width="0.8" />
<line x1="237.62" y1="619.60" x2="237.62" y2="618.10" stroke="#111" stroke-width="0.8" />
<line x1="239.38" y1="619.60" x2="239.38" y2="618.10" stroke="#111" stroke-width="0.8" />
<line x1="240.82" y1="619.60" x2="240.82" y2="618.10" stroke="#111" stroke-width="0.8" />
<line x1="242.03" y1="619.60" x2="242.03" y2="618.10" stroke="#111" stroke-width="0.8" />
<line x1="243.09" y1="619.60" x2="243.09" y2="618.10" stroke="#111" stroke-width="0.8" />
<line x1="244.02" y1="619.60" x2="244.02" y2="618.10" stroke="#111" stroke-width="0.8" />
<line x1="244.85" y1="619.60" x2="244.85" y2="616.60" stroke="#111" stroke-width="0.8" />
<line x1="250.32" y1="619.60" x2="250.32" y2="618.10" stroke="#111" stroke-width="0.8" />
<line x1="253.52" y1="619.60" x2="253.52" y2="618.10" stroke="#111" stroke-width="0.8" />
<line x1="255.79" y1="619.60" x2="255.79" y2="618.10" stroke="#111" stroke-width="0.8" />
<line x1="257.55" y1="619.60" x2="257.55" y2="618.10" stroke="#111" stroke-width="0.8" />
<line x1="258.99" y1="619.60" x2="258.99" y2="618.10" stroke="#111" stroke-width="0.8" />
<line x1="260.21" y1="619.60" x2="260.21" y2="618.10" stroke="#111" stroke-width="0.8" />
<line x1="261.26" y1="619.60" x2="261.26" y2="618.10" stroke="#111" stroke-width="0.8" />
<line x1="262.19" y1="619.60" x2="262.19" y2="618.10" stroke="#111" stroke-width="0.8" />
<line x1="263.02" y1="619.60" x2="263.02" y2="616.60" stroke="#111" stroke-width="0.8" />
<line x1="268.50" y1="619.60" x2="268.50" y2="618.10" stroke="#111" stroke-width="0.8" />
<line x1="271.70" y1="619.60" x2="271.70" y2="618.10" stroke="#111" stroke-width="0.8" />
<line x1="273.97" y1="619.60" x2="273.97" y2="618.10" stroke="#111" stroke-width="0.8" />
<line x1="275.73" y1="619.60" x2="275.73" y2="618.10" stroke="#111" stroke-width="0.8" />
<line x1="277.17" y1="619.60" x2="277.17" y2="618.10" stroke="#111" stroke-width="0.8" />
<line x1="278.38" y1="619.60" x2="278.38" y2="618.10" stroke="#111" stroke-width="0.8" />
<line x1="279.44" y1="619.60" x2="279.44" y2="618.10" stroke="#111" stroke-width="0.8" />
<line x1="280.37" y1="619.60" x2="280.37" y2="618.10" stroke="#111" stroke-width="0.8" />
<line x1="208.50" y1="619.60" x2="208.50" y2="621.10" stroke="#111" stroke-width="1.2" />
<text x="208.50" y="636.20" font-size="9" text-anchor="middle" fill="#111">10<tspan font-size="6.3" dy="-3.6">0</tspan></text>
<line x1="226.68" y1="619.60" x2="226.68" y2="621.10" stroke="#111" stroke-width="1.2" />
<text x="226.68" y="636.20" font-size="9" text-anchor="middle" fill="#111">10<tspan font-size="6.3" dy="-3.6">1</tspan></text>
<line x1="244.85" y1="619.60" x2="244.85" y2="621.10" stroke="#111" stroke-width="1.2" />
<text x="244.85" y="636.20" font-size="9" text-anchor="middle" fill="#111">10<tspan font-size="6.3" dy="-3.6">2</tspan></text>
<line x1="263.02" y1="619.60" x2="263.02" y2="621.10" stroke="#111" stroke-width="1.2" />
<text x="263.02" y="636.20" font-size="9" text-anchor="middle" fill="#111">10<tspan font-size="6.3" dy="-3.6">3</tspan></text>
<line x1="281.20" y1="619.60" x2="281.20" y2="621.10" stroke="#111" stroke-width="1.2" />
<text x="281.20" y="636.20" font-size="9" text-anchor="middle" fill="#111">10<tspan font-size="6.3" dy="-3.6">4</tspan></text>
<text x="288.60" y="584.90" font-size="11.2" fill="#111" >MEC-pc</text>
<path d="M217.00,719.40 L220.60,717.30 L222.90,712.70 L224.70,701.20 L226.00,686.20 L227.20,668.80 L228.40,655.00 L229.30,649.20 L230.00,648.20 L230.80,649.60 L231.80,657.30 L233.00,672.30 L234.30,686.20 L235.60,700.00 L237.30,710.40 L239.50,716.20 L242.40,718.50 L246.00,719.40 L281.50,719.40" fill="none" stroke="#9c1440" stroke-width="1.35" stroke-linejoin="round"/>
<path d="M216.40,719.40 L220.40,717.30 L222.70,712.70 L224.50,701.20 L225.80,686.20 L227.00,668.80 L228.20,655.00 L229.10,649.20 L229.80,647.80 L230.50,649.20 L231.40,657.30 L232.50,672.30 L233.70,686.20 L234.80,700.00 L236.20,710.40 L238.30,716.20 L241.20,718.50 L244.10,719.40 L281.50,719.40" fill="none" stroke="#304a78" stroke-width="1.35" stroke-linejoin="round"/>
<rect x="208.50" y="643.90" width="72.70" height="76.00" fill="none" stroke="#111" stroke-width="1.5"/>
<line x1="205.30" y1="719.40" x2="208.50" y2="719.40" stroke="#111" stroke-width="1.2" />
<text x="202.20" y="722.60" font-size="9.5" text-anchor="end" fill="#111" >0</text>
<line x1="205.30" y1="705.00" x2="208.50" y2="705.00" stroke="#111" stroke-width="1.2" />
<text x="202.20" y="708.20" font-size="9.5" text-anchor="end" fill="#111" >20</text>
<line x1="205.30" y1="690.60" x2="208.50" y2="690.60" stroke="#111" stroke-width="1.2" />
<text x="202.20" y="693.80" font-size="9.5" text-anchor="end" fill="#111" >40</text>
<line x1="205.30" y1="676.20" x2="208.50" y2="676.20" stroke="#111" stroke-width="1.2" />
<text x="202.20" y="679.40" font-size="9.5" text-anchor="end" fill="#111" >60</text>
<line x1="205.30" y1="661.80" x2="208.50" y2="661.80" stroke="#111" stroke-width="1.2" />
<text x="202.20" y="665.00" font-size="9.5" text-anchor="end" fill="#111" >80</text>
<line x1="205.30" y1="647.40" x2="208.50" y2="647.40" stroke="#111" stroke-width="1.2" />
<text x="202.20" y="650.60" font-size="9.5" text-anchor="end" fill="#111" >100</text>
<line x1="206.70" y1="719.40" x2="208.50" y2="719.40" stroke="#111" stroke-width="0.8" />
<line x1="206.70" y1="715.80" x2="208.50" y2="715.80" stroke="#111" stroke-width="0.8" />
<line x1="206.70" y1="712.20" x2="208.50" y2="712.20" stroke="#111" stroke-width="0.8" />
<line x1="206.70" y1="708.60" x2="208.50" y2="708.60" stroke="#111" stroke-width="0.8" />
<line x1="206.70" y1="705.00" x2="208.50" y2="705.00" stroke="#111" stroke-width="0.8" />
<line x1="206.70" y1="701.40" x2="208.50" y2="701.40" stroke="#111" stroke-width="0.8" />
<line x1="206.70" y1="697.80" x2="208.50" y2="697.80" stroke="#111" stroke-width="0.8" />
<line x1="206.70" y1="694.20" x2="208.50" y2="694.20" stroke="#111" stroke-width="0.8" />
<line x1="206.70" y1="690.60" x2="208.50" y2="690.60" stroke="#111" stroke-width="0.8" />
<line x1="206.70" y1="687.00" x2="208.50" y2="687.00" stroke="#111" stroke-width="0.8" />
<line x1="206.70" y1="683.40" x2="208.50" y2="683.40" stroke="#111" stroke-width="0.8" />
<line x1="206.70" y1="679.80" x2="208.50" y2="679.80" stroke="#111" stroke-width="0.8" />
<line x1="206.70" y1="676.20" x2="208.50" y2="676.20" stroke="#111" stroke-width="0.8" />
<line x1="206.70" y1="672.60" x2="208.50" y2="672.60" stroke="#111" stroke-width="0.8" />
<line x1="206.70" y1="669.00" x2="208.50" y2="669.00" stroke="#111" stroke-width="0.8" />
<line x1="206.70" y1="665.40" x2="208.50" y2="665.40" stroke="#111" stroke-width="0.8" />
<line x1="206.70" y1="661.80" x2="208.50" y2="661.80" stroke="#111" stroke-width="0.8" />
<line x1="206.70" y1="658.20" x2="208.50" y2="658.20" stroke="#111" stroke-width="0.8" />
<line x1="206.70" y1="654.60" x2="208.50" y2="654.60" stroke="#111" stroke-width="0.8" />
<line x1="206.70" y1="651.00" x2="208.50" y2="651.00" stroke="#111" stroke-width="0.8" />
<line x1="206.70" y1="647.40" x2="208.50" y2="647.40" stroke="#111" stroke-width="0.8" />
<line x1="208.50" y1="719.90" x2="208.50" y2="716.90" stroke="#111" stroke-width="0.8" />
<line x1="213.97" y1="719.90" x2="213.97" y2="718.40" stroke="#111" stroke-width="0.8" />
<line x1="217.17" y1="719.90" x2="217.17" y2="718.40" stroke="#111" stroke-width="0.8" />
<line x1="219.44" y1="719.90" x2="219.44" y2="718.40" stroke="#111" stroke-width="0.8" />
<line x1="221.20" y1="719.90" x2="221.20" y2="718.40" stroke="#111" stroke-width="0.8" />
<line x1="222.64" y1="719.90" x2="222.64" y2="718.40" stroke="#111" stroke-width="0.8" />
<line x1="223.86" y1="719.90" x2="223.86" y2="718.40" stroke="#111" stroke-width="0.8" />
<line x1="224.91" y1="719.90" x2="224.91" y2="718.40" stroke="#111" stroke-width="0.8" />
<line x1="225.84" y1="719.90" x2="225.84" y2="718.40" stroke="#111" stroke-width="0.8" />
<line x1="226.68" y1="719.90" x2="226.68" y2="716.90" stroke="#111" stroke-width="0.8" />
<line x1="232.15" y1="719.90" x2="232.15" y2="718.40" stroke="#111" stroke-width="0.8" />
<line x1="235.35" y1="719.90" x2="235.35" y2="718.40" stroke="#111" stroke-width="0.8" />
<line x1="237.62" y1="719.90" x2="237.62" y2="718.40" stroke="#111" stroke-width="0.8" />
<line x1="239.38" y1="719.90" x2="239.38" y2="718.40" stroke="#111" stroke-width="0.8" />
<line x1="240.82" y1="719.90" x2="240.82" y2="718.40" stroke="#111" stroke-width="0.8" />
<line x1="242.03" y1="719.90" x2="242.03" y2="718.40" stroke="#111" stroke-width="0.8" />
<line x1="243.09" y1="719.90" x2="243.09" y2="718.40" stroke="#111" stroke-width="0.8" />
<line x1="244.02" y1="719.90" x2="244.02" y2="718.40" stroke="#111" stroke-width="0.8" />
<line x1="244.85" y1="719.90" x2="244.85" y2="716.90" stroke="#111" stroke-width="0.8" />
<line x1="250.32" y1="719.90" x2="250.32" y2="718.40" stroke="#111" stroke-width="0.8" />
<line x1="253.52" y1="719.90" x2="253.52" y2="718.40" stroke="#111" stroke-width="0.8" />
<line x1="255.79" y1="719.90" x2="255.79" y2="718.40" stroke="#111" stroke-width="0.8" />
<line x1="257.55" y1="719.90" x2="257.55" y2="718.40" stroke="#111" stroke-width="0.8" />
<line x1="258.99" y1="719.90" x2="258.99" y2="718.40" stroke="#111" stroke-width="0.8" />
<line x1="260.21" y1="719.90" x2="260.21" y2="718.40" stroke="#111" stroke-width="0.8" />
<line x1="261.26" y1="719.90" x2="261.26" y2="718.40" stroke="#111" stroke-width="0.8" />
<line x1="262.19" y1="719.90" x2="262.19" y2="718.40" stroke="#111" stroke-width="0.8" />
<line x1="263.02" y1="719.90" x2="263.02" y2="716.90" stroke="#111" stroke-width="0.8" />
<line x1="268.50" y1="719.90" x2="268.50" y2="718.40" stroke="#111" stroke-width="0.8" />
<line x1="271.70" y1="719.90" x2="271.70" y2="718.40" stroke="#111" stroke-width="0.8" />
<line x1="273.97" y1="719.90" x2="273.97" y2="718.40" stroke="#111" stroke-width="0.8" />
<line x1="275.73" y1="719.90" x2="275.73" y2="718.40" stroke="#111" stroke-width="0.8" />
<line x1="277.17" y1="719.90" x2="277.17" y2="718.40" stroke="#111" stroke-width="0.8" />
<line x1="278.38" y1="719.90" x2="278.38" y2="718.40" stroke="#111" stroke-width="0.8" />
<line x1="279.44" y1="719.90" x2="279.44" y2="718.40" stroke="#111" stroke-width="0.8" />
<line x1="280.37" y1="719.90" x2="280.37" y2="718.40" stroke="#111" stroke-width="0.8" />
<line x1="208.50" y1="719.90" x2="208.50" y2="721.40" stroke="#111" stroke-width="1.2" />
<text x="208.50" y="736.50" font-size="9" text-anchor="middle" fill="#111">10<tspan font-size="6.3" dy="-3.6">0</tspan></text>
<line x1="226.68" y1="719.90" x2="226.68" y2="721.40" stroke="#111" stroke-width="1.2" />
<text x="226.68" y="736.50" font-size="9" text-anchor="middle" fill="#111">10<tspan font-size="6.3" dy="-3.6">1</tspan></text>
<line x1="244.85" y1="719.90" x2="244.85" y2="721.40" stroke="#111" stroke-width="1.2" />
<text x="244.85" y="736.50" font-size="9" text-anchor="middle" fill="#111">10<tspan font-size="6.3" dy="-3.6">2</tspan></text>
<line x1="263.02" y1="719.90" x2="263.02" y2="721.40" stroke="#111" stroke-width="1.2" />
<text x="263.02" y="736.50" font-size="9" text-anchor="middle" fill="#111">10<tspan font-size="6.3" dy="-3.6">3</tspan></text>
<line x1="281.20" y1="719.90" x2="281.20" y2="721.40" stroke="#111" stroke-width="1.2" />
<text x="281.20" y="736.50" font-size="9" text-anchor="middle" fill="#111">10<tspan font-size="6.3" dy="-3.6">4</tspan></text>
<text x="288.60" y="678.70" font-size="11.2" fill="#111" >MEC-</text>
<text x="288.60" y="692.30" font-size="11.2" fill="#111" >p66Shc</text>
<rect x="197.5" y="748.4" width="11.3" height="10.5" fill="#2f5597" stroke="#1a2a48" stroke-width="0.8"/>
<text x="212.50" y="757.00" font-size="9.0" fill="#111" >isotype ctrl</text>
<rect x="263.2" y="748.4" width="11.6" height="10.5" fill="#c0123c" stroke="#5a0a1c" stroke-width="0.8"/>
<text x="278.50" y="757.00" font-size="9.0" fill="#111" >ILT3</text>
<line x1="410.30" y1="441.50" x2="410.30" y2="547.60" stroke="#111" stroke-width="1.5" />
<line x1="406.10" y1="546.90" x2="410.30" y2="546.90" stroke="#111" stroke-width="1.3" />
<text x="403.20" y="550.20" font-size="9.9" text-anchor="end" fill="#111" >0.0</text>
<line x1="406.10" y1="526.44" x2="410.30" y2="526.44" stroke="#111" stroke-width="1.3" />
<text x="403.20" y="529.74" font-size="9.9" text-anchor="end" fill="#111" >0.5</text>
<line x1="406.10" y1="505.98" x2="410.30" y2="505.98" stroke="#111" stroke-width="1.3" />
<text x="403.20" y="509.28" font-size="9.9" text-anchor="end" fill="#111" >1.0</text>
<line x1="406.10" y1="485.52" x2="410.30" y2="485.52" stroke="#111" stroke-width="1.3" />
<text x="403.20" y="488.82" font-size="9.9" text-anchor="end" fill="#111" >1.5</text>
<line x1="406.10" y1="465.06" x2="410.30" y2="465.06" stroke="#111" stroke-width="1.3" />
<text x="403.20" y="468.36" font-size="9.9" text-anchor="end" fill="#111" >2.0</text>
<line x1="406.10" y1="444.60" x2="410.30" y2="444.60" stroke="#111" stroke-width="1.3" />
<text x="403.20" y="447.90" font-size="9.9" text-anchor="end" fill="#111" >2.5</text>
<line x1="409.60" y1="546.90" x2="512.30" y2="546.90" stroke="#111" stroke-width="1.5" />
<line x1="426.90" y1="546.90" x2="426.90" y2="551.10" stroke="#111" stroke-width="1.3" />
<line x1="460.50" y1="546.90" x2="460.50" y2="551.10" stroke="#111" stroke-width="1.3" />
<line x1="494.40" y1="546.90" x2="494.40" y2="551.10" stroke="#111" stroke-width="1.3" />
<text transform="translate(384.0,493.9) rotate(-90)" font-size="10.5" text-anchor="middle" fill="#111">Normalized <tspan font-style="italic">ILT3</tspan> mRNA</text>
<line x1="422.50" y1="449.90" x2="498.10" y2="449.90" stroke="#111" stroke-width="1.4" />
<circle cx="455.50" cy="443.40" r="1.55" fill="#111"/>
<circle cx="460.10" cy="443.40" r="1.55" fill="#111"/>
<circle cx="464.70" cy="443.40" r="1.55" fill="#111"/>
<line x1="422.50" y1="464.20" x2="462.80" y2="464.20" stroke="#111" stroke-width="1.4" />
<circle cx="438.10" cy="457.80" r="1.55" fill="#111"/>
<circle cx="442.70" cy="457.80" r="1.55" fill="#111"/>
<circle cx="447.30" cy="457.80" r="1.55" fill="#111"/>
<line x1="427.00" y1="509.20" x2="427.00" y2="482.10" stroke="#111" stroke-width="1.4" />
<line x1="415.90" y1="495.90" x2="438.10" y2="495.90" stroke="#111" stroke-width="1.5999999999999999" />
<line x1="420.70" y1="509.20" x2="433.30" y2="509.20" stroke="#111" stroke-width="1.4" />
<line x1="420.70" y1="482.10" x2="433.30" y2="482.10" stroke="#111" stroke-width="1.4" />
<circle cx="422.10" cy="481.80" r="3.3" fill="#8a1236" fill-opacity="0.93" stroke="#22040c" stroke-width="1.45"/>
<circle cx="431.90" cy="482.30" r="3.3" fill="#8a1236" fill-opacity="0.93" stroke="#22040c" stroke-width="1.45"/>
<circle cx="420.70" cy="487.80" r="3.3" fill="#8a1236" fill-opacity="0.93" stroke="#22040c" stroke-width="1.45"/>
<circle cx="433.60" cy="488.10" r="3.3" fill="#8a1236" fill-opacity="0.93" stroke="#22040c" stroke-width="1.45"/>
<circle cx="421.80" cy="504.60" r="3.3" fill="#8a1236" fill-opacity="0.93" stroke="#22040c" stroke-width="1.45"/>
<circle cx="432.50" cy="506.30" r="3.3" fill="#8a1236" fill-opacity="0.93" stroke="#22040c" stroke-width="1.45"/>
<circle cx="427.00" cy="519.70" r="3.3" fill="#8a1236" fill-opacity="0.93" stroke="#22040c" stroke-width="1.45"/>
<circle cx="427.00" cy="495.20" r="3.3" fill="#5a0c26" fill-opacity="0.93" stroke="#22040c" stroke-width="1.45"/>
<circle cx="454.40" cy="542.10" r="3.3" fill="#2c3b5c" fill-opacity="0.93" stroke="#0e1420" stroke-width="1.45"/>
<circle cx="458.50" cy="540.80" r="3.3" fill="#2c3b5c" fill-opacity="0.93" stroke="#0e1420" stroke-width="1.45"/>
<circle cx="459.80" cy="545.50" r="3.3" fill="#2c3b5c" fill-opacity="0.93" stroke="#0e1420" stroke-width="1.45"/>
<circle cx="463.80" cy="544.80" r="3.3" fill="#2c3b5c" fill-opacity="0.93" stroke="#0e1420" stroke-width="1.45"/>
<circle cx="465.90" cy="539.40" r="3.3" fill="#2c3b5c" fill-opacity="0.93" stroke="#0e1420" stroke-width="1.45"/>
<circle cx="469.20" cy="541.40" r="3.3" fill="#2c3b5c" fill-opacity="0.93" stroke="#0e1420" stroke-width="1.45"/>
<circle cx="467.20" cy="544.10" r="3.3" fill="#2c3b5c" fill-opacity="0.93" stroke="#0e1420" stroke-width="1.45"/>
<circle cx="461.50" cy="542.00" r="3.3" fill="#2c3b5c" fill-opacity="0.93" stroke="#0e1420" stroke-width="1.45"/>
<line x1="461.50" y1="544.50" x2="461.50" y2="540.50" stroke="#111" stroke-width="1.2" />
<line x1="455.00" y1="542.60" x2="468.00" y2="542.60" stroke="#111" stroke-width="1.4" />
<line x1="459.00" y1="544.50" x2="464.00" y2="544.50" stroke="#111" stroke-width="1.2" />
<line x1="459.00" y1="540.50" x2="464.00" y2="540.50" stroke="#111" stroke-width="1.2" />
<circle cx="487.40" cy="542.80" r="3.3" fill="#8db872" fill-opacity="0.93" stroke="#121a0c" stroke-width="1.45"/>
<circle cx="491.40" cy="540.80" r="3.3" fill="#8db872" fill-opacity="0.93" stroke="#121a0c" stroke-width="1.45"/>
<circle cx="491.40" cy="546.20" r="3.3" fill="#8db872" fill-opacity="0.93" stroke="#121a0c" stroke-width="1.45"/>
<circle cx="496.10" cy="546.20" r="3.3" fill="#8db872" fill-opacity="0.93" stroke="#121a0c" stroke-width="1.45"/>
<circle cx="499.50" cy="538.10" r="3.3" fill="#8db872" fill-opacity="0.93" stroke="#121a0c" stroke-width="1.45"/>
<circle cx="502.20" cy="542.10" r="3.3" fill="#8db872" fill-opacity="0.93" stroke="#121a0c" stroke-width="1.45"/>
<circle cx="498.80" cy="543.50" r="3.3" fill="#8db872" fill-opacity="0.93" stroke="#121a0c" stroke-width="1.45"/>
<circle cx="494.50" cy="543.00" r="3.3" fill="#8db872" fill-opacity="0.93" stroke="#121a0c" stroke-width="1.45"/>
<line x1="494.60" y1="545.00" x2="494.60" y2="540.00" stroke="#111" stroke-width="1.2" />
<line x1="488.10" y1="542.60" x2="501.10" y2="542.60" stroke="#111" stroke-width="1.4" />
<line x1="492.10" y1="545.00" x2="497.10" y2="545.00" stroke="#111" stroke-width="1.2" />
<line x1="492.10" y1="540.00" x2="497.10" y2="540.00" stroke="#111" stroke-width="1.2" />
<line x1="410.30" y1="572.50" x2="410.30" y2="678.00" stroke="#111" stroke-width="1.5" />
<line x1="406.10" y1="677.30" x2="410.30" y2="677.30" stroke="#111" stroke-width="1.3" />
<text x="403.20" y="680.60" font-size="9.9" text-anchor="end" fill="#111" >0</text>
<line x1="406.10" y1="643.33" x2="410.30" y2="643.33" stroke="#111" stroke-width="1.3" />
<text x="403.20" y="646.63" font-size="9.9" text-anchor="end" fill="#111" >25</text>
<line x1="406.10" y1="609.37" x2="410.30" y2="609.37" stroke="#111" stroke-width="1.3" />
<text x="403.20" y="612.67" font-size="9.9" text-anchor="end" fill="#111" >50</text>
<line x1="406.10" y1="575.40" x2="410.30" y2="575.40" stroke="#111" stroke-width="1.3" />
<text x="403.20" y="578.70" font-size="9.9" text-anchor="end" fill="#111" >75</text>
<line x1="409.60" y1="677.30" x2="512.00" y2="677.30" stroke="#111" stroke-width="1.5" />
<line x1="426.80" y1="677.30" x2="426.80" y2="681.50" stroke="#111" stroke-width="1.3" />
<line x1="460.50" y1="677.30" x2="460.50" y2="681.50" stroke="#111" stroke-width="1.3" />
<line x1="494.40" y1="677.30" x2="494.40" y2="681.50" stroke="#111" stroke-width="1.3" />
<text transform="translate(385.9,625.2) rotate(-90)" font-size="10.7" text-anchor="middle" fill="#111">&#945;ILT3 MFI</text>
<line x1="424.10" y1="580.50" x2="501.30" y2="580.50" stroke="#111" stroke-width="1.4" />
<circle cx="458.30" cy="574.70" r="1.55" fill="#111"/>
<circle cx="462.90" cy="574.70" r="1.55" fill="#111"/>
<circle cx="467.50" cy="574.70" r="1.55" fill="#111"/>
<line x1="424.10" y1="595.90" x2="464.90" y2="595.90" stroke="#111" stroke-width="1.4" />
<circle cx="439.70" cy="589.60" r="1.55" fill="#111"/>
<circle cx="444.30" cy="589.60" r="1.55" fill="#111"/>
<circle cx="448.90" cy="589.60" r="1.55" fill="#111"/>
<line x1="427.00" y1="645.40" x2="427.00" y2="615.90" stroke="#111" stroke-width="1.4" />
<line x1="415.50" y1="630.80" x2="438.50" y2="630.80" stroke="#111" stroke-width="1.5999999999999999" />
<line x1="421.00" y1="645.40" x2="433.00" y2="645.40" stroke="#111" stroke-width="1.4" />
<line x1="421.00" y1="615.90" x2="433.00" y2="615.90" stroke="#111" stroke-width="1.4" />
<circle cx="431.70" cy="612.20" r="3.3" fill="#8a1236" fill-opacity="0.93" stroke="#22040c" stroke-width="1.45"/>
<circle cx="417.00" cy="620.70" r="3.3" fill="#8a1236" fill-opacity="0.93" stroke="#22040c" stroke-width="1.45"/>
<circle cx="421.30" cy="623.60" r="3.3" fill="#8a1236" fill-opacity="0.93" stroke="#22040c" stroke-width="1.45"/>
<circle cx="423.60" cy="625.30" r="3.3" fill="#8a1236" fill-opacity="0.93" stroke="#22040c" stroke-width="1.45"/>
<circle cx="432.00" cy="624.30" r="3.3" fill="#8a1236" fill-opacity="0.93" stroke="#22040c" stroke-width="1.45"/>
<circle cx="429.50" cy="632.20" r="3.3" fill="#8a1236" fill-opacity="0.93" stroke="#22040c" stroke-width="1.45"/>
<circle cx="422.00" cy="653.70" r="3.3" fill="#8a1236" fill-opacity="0.93" stroke="#22040c" stroke-width="1.45"/>
<circle cx="431.70" cy="651.90" r="3.3" fill="#8a1236" fill-opacity="0.93" stroke="#22040c" stroke-width="1.45"/>
<circle cx="454.40" cy="669.90" r="3.3" fill="#3d5180" fill-opacity="0.93" stroke="#0e1420" stroke-width="1.45"/>
<circle cx="456.90" cy="666.80" r="3.3" fill="#3d5180" fill-opacity="0.93" stroke="#0e1420" stroke-width="1.45"/>
<circle cx="465.00" cy="666.10" r="3.3" fill="#3d5180" fill-opacity="0.93" stroke="#0e1420" stroke-width="1.45"/>
<circle cx="468.80" cy="669.90" r="3.3" fill="#3d5180" fill-opacity="0.93" stroke="#0e1420" stroke-width="1.45"/>
<circle cx="458.10" cy="673.60" r="3.3" fill="#3d5180" fill-opacity="0.93" stroke="#0e1420" stroke-width="1.45"/>
<circle cx="463.80" cy="673.60" r="3.3" fill="#3d5180" fill-opacity="0.93" stroke="#0e1420" stroke-width="1.45"/>
<circle cx="460.60" cy="671.30" r="3.3" fill="#3d5180" fill-opacity="0.93" stroke="#0e1420" stroke-width="1.45"/>
<line x1="460.60" y1="674.50" x2="460.60" y2="668.50" stroke="#111" stroke-width="1.2" />
<line x1="454.10" y1="671.50" x2="467.10" y2="671.50" stroke="#111" stroke-width="1.4" />
<line x1="458.10" y1="674.50" x2="463.10" y2="674.50" stroke="#111" stroke-width="1.2" />
<line x1="458.10" y1="668.50" x2="463.10" y2="668.50" stroke="#111" stroke-width="1.2" />
<circle cx="486.90" cy="673.60" r="3.3" fill="#8db872" fill-opacity="0.93" stroke="#121a0c" stroke-width="1.45"/>
<circle cx="490.00" cy="671.10" r="3.3" fill="#8db872" fill-opacity="0.93" stroke="#121a0c" stroke-width="1.45"/>
<circle cx="493.10" cy="675.50" r="3.3" fill="#8db872" fill-opacity="0.93" stroke="#121a0c" stroke-width="1.45"/>
<circle cx="498.80" cy="670.50" r="3.3" fill="#8db872" fill-opacity="0.93" stroke="#121a0c" stroke-width="1.45"/>
<circle cx="502.50" cy="673.00" r="3.3" fill="#8db872" fill-opacity="0.93" stroke="#121a0c" stroke-width="1.45"/>
<circle cx="496.90" cy="675.50" r="3.3" fill="#8db872" fill-opacity="0.93" stroke="#121a0c" stroke-width="1.45"/>
<circle cx="490.00" cy="676.60" r="3.3" fill="#8db872" fill-opacity="0.93" stroke="#121a0c" stroke-width="1.45"/>
<line x1="494.50" y1="675.50" x2="494.50" y2="671.50" stroke="#111" stroke-width="1.2" />
<line x1="488.00" y1="673.50" x2="501.00" y2="673.50" stroke="#111" stroke-width="1.4" />
<line x1="492.00" y1="675.50" x2="497.00" y2="675.50" stroke="#111" stroke-width="1.2" />
<line x1="492.00" y1="671.50" x2="497.00" y2="671.50" stroke="#111" stroke-width="1.2" />
<text transform="translate(432.00,689.50) rotate(-45)" font-size="9.6" text-anchor="end" fill="#111">MEC-pc ILT3<tspan font-size="6" dy="-3.5">+</tspan></text>
<text transform="translate(465.30,689.00) rotate(-45)" font-size="9.6" text-anchor="end" fill="#111">MEC-pc ILT3<tspan font-size="6" dy="-3.5">&#8211;</tspan></text>
<text transform="translate(499.80,686.80) rotate(-45)" font-size="9.7" text-anchor="end" fill="#111">MEC-p66Shc</text>
</svg></body></html>
